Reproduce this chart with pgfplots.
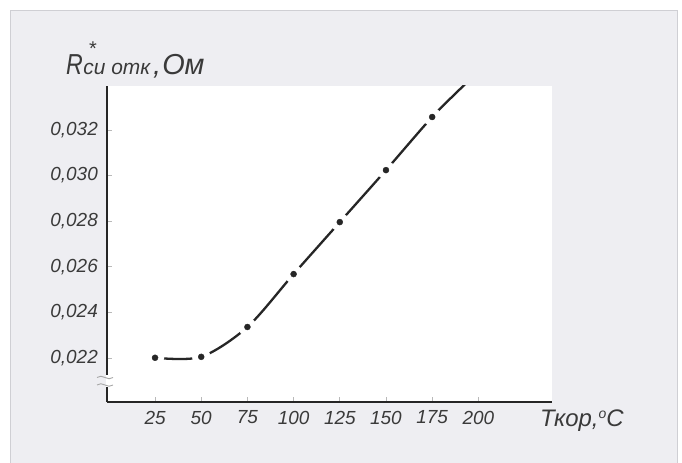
\documentclass[border=0pt]{standalone}
\usepackage{pgfplots}
\pgfplotsset{compat=1.18}
\usepackage{fontspec}
\setmainfont{Liberation Sans}
\definecolor{panel}{HTML}{EEEEF2}
\definecolor{frame}{HTML}{CFCFD4}
\definecolor{ink}{HTML}{262626}
\definecolor{txt}{HTML}{3A3A3A}
\begin{document}
\begin{tikzpicture}[x=1bp,y=1bp]
\useasboundingbox (0,0) rectangle (682,463);
\fill[panel] (10,-5) rectangle (677,452);
\draw[frame, line width=1bp] (10,-5) -- (10,452) -- (677,452) -- (677,-5);
\fill[white] (107,61.3) rectangle (551.7,377);
\begin{axis}[
  at={(107bp,61.3bp)}, anchor=south west,
  scale only axis, width=444.7bp, height=315.7bp,
  xmin=-1, xmax=239.7, ymin=0.020083, ymax=0.03393,
  axis lines=left,
  axis line style={-, line width=2.2bp, draw=ink},
  scaled y ticks=false, scaled x ticks=false,
  xtick={25,50,75,100,125,150,175,200},
  xticklabels={25,\raisebox{-4bp}{50},75,100,125,150,175,200},
  ytick={0.022,0.024,0.026,0.028,0.030,0.032},
  yticklabels={{0,022},{0,024},{0,026},{0,028},{0,030},{0,032}},
  tick align=inside,
  major tick length=5bp,
  tick style={draw=gray!55, line width=0.8bp},
  xticklabel style={font=\itshape\fontsize{19}{21}\selectfont, text=txt, inner sep=0pt, anchor=north, yshift=-9bp},
  yticklabel style={font=\itshape\fontsize{19}{21}\selectfont, text=txt, inner sep=0pt, anchor=east, xshift=-9bp},
  clip=true,
]
\addplot[ink, line width=2.3bp, smooth] coordinates {(25,0.02201) (50,0.02205) (75,0.02336) (100,0.02568) (125,0.02796) (150,0.03024) (175,0.03257) (193,0.03402)};
\addplot[only marks, mark=*, mark size=9bp, mark options={fill=white, draw=white}] coordinates {(25,0.02201) (50,0.02205) (75,0.02336) (100,0.02568) (125,0.02796) (150,0.03024) (175,0.03257)};
\addplot[only marks, mark=*, mark size=3bp, mark options={fill=ink, draw=ink}] coordinates {(25,0.02201) (50,0.02205) (75,0.02336) (100,0.02568) (125,0.02796) (150,0.03024) (175,0.03257)};
\end{axis}
% axis break
\fill[white] (104,75.5) rectangle (110,87.5);
\fill[panel] (104,75.5) rectangle (105.9,87.5);
\draw[gray!70, line width=0.9bp] (97,85.5) .. controls (102,90) and (108,81) .. (113,85.5);
\draw[gray!70, line width=0.9bp] (97,78) .. controls (102,82.5) and (108,73.5) .. (113,78);
% labels
\node[anchor=base west, inner sep=0pt, text=txt] at (66,388) {\itshape\fontsize{29}{29}\selectfont\scalebox{0.8}[1]{R}\kern0.5bp{\fontsize{21}{21}\selectfont си отк}\kern3bp,\kern1bp Ом};
\node[inner sep=0pt, text=txt] at (93,414) {\fontsize{20}{20}\selectfont *};
\node[anchor=base west, inner sep=0pt, text=txt] at (540,36.3) {\itshape\fontsize{24}{24}\selectfont Ткор,\raisebox{8bp}{\fontsize{14}{14}\selectfont o}C};
\end{tikzpicture}
\end{document}
